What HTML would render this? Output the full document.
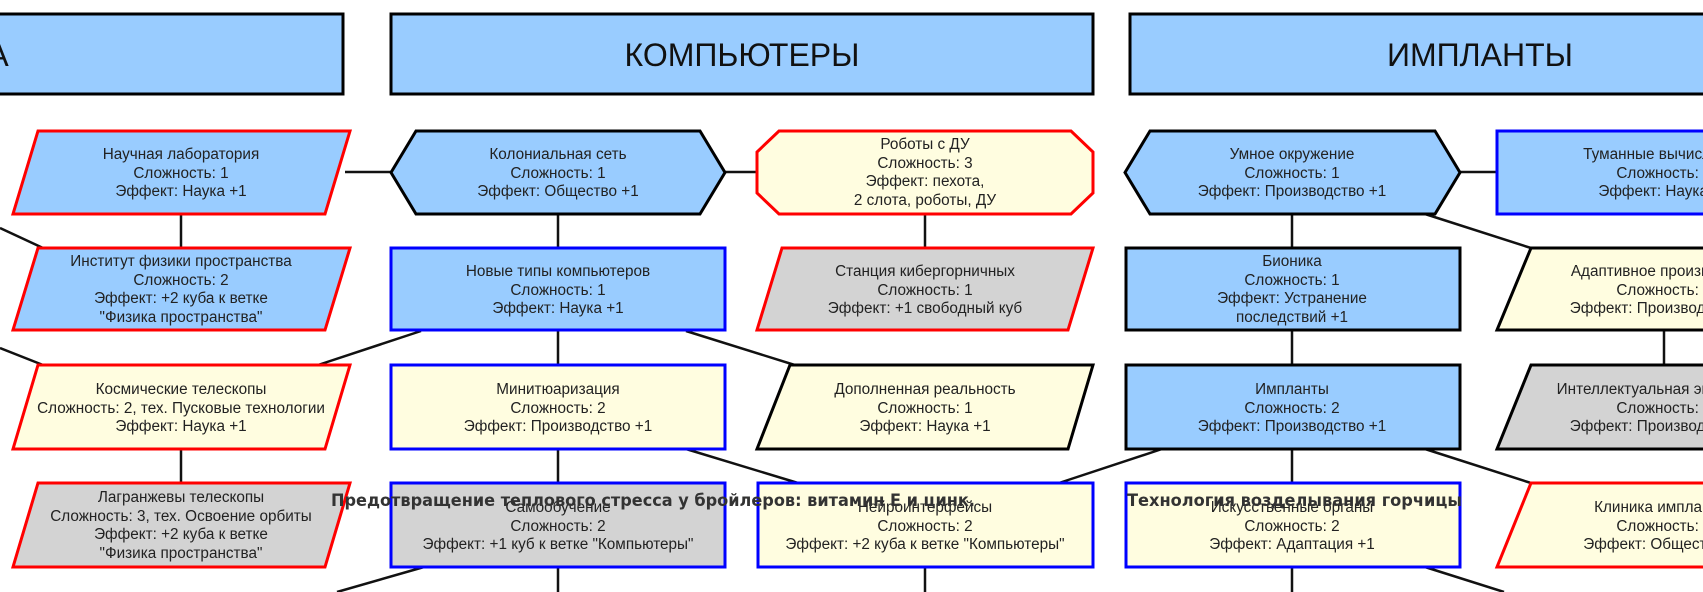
<!DOCTYPE html>
<html><head><meta charset="utf-8"><style>
html,body{margin:0;padding:0;background:#fff;width:1703px;height:592px;overflow:hidden}
svg{display:block}
.t{font-family:"Liberation Sans",Arial,sans-serif;font-size:15.3px;fill:#222;text-anchor:middle}
.h{font-family:"Liberation Sans",Arial,sans-serif;font-size:32px;fill:#111;text-anchor:middle}
.o{font-family:"DejaVu Sans Condensed","DejaVu Sans",sans-serif;font-weight:bold;font-size:16.5px;fill:#333}
</style></head><body>
<svg width="1703" height="592" viewBox="0 0 1703 592" xmlns="http://www.w3.org/2000/svg">
<g stroke="#000" stroke-width="3" fill="#99CCFF">
<rect x="-360" y="14" width="703" height="80"/>
<rect x="391" y="14" width="702" height="80"/>
<rect x="1130" y="14" width="702" height="80"/>
</g>
<text class="h" x="-2" y="66">А</text>
<text class="h" x="742" y="66">КОМПЬЮТЕРЫ</text>
<text class="h" x="1480" y="66">ИМПЛАНТЫ</text>

<g stroke="#111" stroke-width="2.5">
<line x1="345" y1="172" x2="391" y2="172"/>
<line x1="725" y1="172" x2="757" y2="172"/>
<line x1="1460" y1="172" x2="1496" y2="172"/>
<line x1="181" y1="214" x2="181" y2="248"/>
<line x1="181" y1="449" x2="181" y2="483"/>
<line x1="558" y1="214" x2="558" y2="592"/>
<line x1="925" y1="214" x2="925" y2="248"/>
<line x1="925" y1="567" x2="925" y2="592"/>
<line x1="1292" y1="214" x2="1292" y2="592"/>
<line x1="1664" y1="330" x2="1664" y2="365"/>
<line x1="0" y1="228" x2="43" y2="248"/>
<line x1="0" y1="348" x2="43" y2="365"/>
<line x1="421" y1="331" x2="315" y2="366"/>
<line x1="686" y1="331" x2="798" y2="366"/>
<line x1="686" y1="449" x2="798" y2="483"/>
<line x1="424" y1="567" x2="337" y2="592"/>
<line x1="1425" y1="214" x2="1531" y2="248"/>
<line x1="1162" y1="449" x2="1059" y2="483"/>
<line x1="1425" y1="449" x2="1531" y2="483"/>
<line x1="1425" y1="567" x2="1504" y2="592"/>
</g>

<g stroke-width="3">
<polygon points="38,131 350,131 325,214 13,214" fill="#99CCFF" stroke="#f00"/>
<polygon points="391,172.5 416,131 700,131 725,172.5 700,214 416,214" fill="#99CCFF" stroke="#000"/>
<polygon points="779,131 1071,131 1093,152 1093,193 1071,214 779,214 757,193 757,152" fill="#FFFDE0" stroke="#f00"/>
<polygon points="1125,172.5 1150,131 1435,131 1460,172.5 1435,214 1150,214" fill="#99CCFF" stroke="#000"/>
<rect x="1497" y="131" width="334" height="83" fill="#99CCFF" stroke="#00f"/>
<polygon points="38,248 350,248 325,330 13,330" fill="#99CCFF" stroke="#f00"/>
<rect x="391" y="248" width="334" height="82" fill="#99CCFF" stroke="#00f"/>
<polygon points="782,248 1093,248 1068,330 757,330" fill="#D3D3D3" stroke="#f00"/>
<rect x="1126" y="248" width="334" height="82" fill="#99CCFF" stroke="#000"/>
<polygon points="1531,248 1850,248 1825,330 1497,330" fill="#FFFDE0" stroke="#000"/>
<polygon points="38,365 350,365 325,449 13,449" fill="#FFFDE0" stroke="#f00"/>
<rect x="391" y="365" width="334" height="84" fill="#FFFDE0" stroke="#00f"/>
<polygon points="790,365 1093,365 1068,449 757,449" fill="#FFFDE0" stroke="#000"/>
<rect x="1126" y="365" width="334" height="84" fill="#99CCFF" stroke="#000"/>
<polygon points="1531,365 1850,365 1825,449 1497,449" fill="#D3D3D3" stroke="#000"/>
<polygon points="38,483 350,483 325,567 13,567" fill="#D3D3D3" stroke="#f00"/>
<rect x="391" y="483" width="334" height="84" fill="#D3D3D3" stroke="#00f"/>
<rect x="758" y="483" width="335" height="84" fill="#FFFDE0" stroke="#00f"/>
<rect x="1126" y="483" width="334" height="84" fill="#FFFDE0" stroke="#00f"/>
<polygon points="1531,483 1850,483 1825,567 1497,567" fill="#FFFDE0" stroke="#f00"/>
</g>

<text class="t" x="181" y="159">Научная лаборатория</text>
<text class="t" x="181" y="178">Сложность: 1</text>
<text class="t" x="181" y="196">Эффект: Наука +1</text>
<text class="t" x="558" y="159">Колониальная сеть</text>
<text class="t" x="558" y="178">Сложность: 1</text>
<text class="t" x="558" y="196">Эффект: Общество +1</text>
<text class="t" x="925" y="149">Роботы с ДУ</text>
<text class="t" x="925" y="168">Сложность: 3</text>
<text class="t" x="925" y="186">Эффект: пехота,</text>
<text class="t" x="925" y="205">2 слота, роботы, ДУ</text>
<text class="t" x="1292" y="159">Умное окружение</text>
<text class="t" x="1292" y="178">Сложность: 1</text>
<text class="t" x="1292" y="196">Эффект: Производство +1</text>
<text class="t" x="1664" y="159">Туманные вычисления</text>
<text class="t" x="1664" y="178">Сложность: 1</text>
<text class="t" x="1664" y="196">Эффект: Наука +1</text>
<text class="t" x="181" y="266">Институт физики пространства</text>
<text class="t" x="181" y="285">Сложность: 2</text>
<text class="t" x="181" y="303">Эффект: +2 куба к ветке</text>
<text class="t" x="181" y="322">"Физика пространства"</text>
<text class="t" x="558" y="276">Новые типы компьютеров</text>
<text class="t" x="558" y="295">Сложность: 1</text>
<text class="t" x="558" y="313">Эффект: Наука +1</text>
<text class="t" x="925" y="276">Станция кибергорничных</text>
<text class="t" x="925" y="295">Сложность: 1</text>
<text class="t" x="925" y="313">Эффект: +1 свободный куб</text>
<text class="t" x="1292" y="266">Бионика</text>
<text class="t" x="1292" y="285">Сложность: 1</text>
<text class="t" x="1292" y="303">Эффект: Устранение</text>
<text class="t" x="1292" y="322">последствий +1</text>
<text class="t" x="1664" y="276">Адаптивное производство</text>
<text class="t" x="1664" y="295">Сложность: 1</text>
<text class="t" x="1664" y="313">Эффект: Производство +1</text>
<text class="t" x="181" y="394">Космические телескопы</text>
<text class="t" x="181" y="413">Сложность: 2, тех. Пусковые технологии</text>
<text class="t" x="181" y="431">Эффект: Наука +1</text>
<text class="t" x="558" y="394">Минитюаризация</text>
<text class="t" x="558" y="413">Сложность: 2</text>
<text class="t" x="558" y="431">Эффект: Производство +1</text>
<text class="t" x="925" y="394">Дополненная реальность</text>
<text class="t" x="925" y="413">Сложность: 1</text>
<text class="t" x="925" y="431">Эффект: Наука +1</text>
<text class="t" x="1292" y="394">Импланты</text>
<text class="t" x="1292" y="413">Сложность: 2</text>
<text class="t" x="1292" y="431">Эффект: Производство +1</text>
<text class="t" x="1664" y="394">Интеллектуальная энергетика</text>
<text class="t" x="1664" y="413">Сложность: 2</text>
<text class="t" x="1664" y="431">Эффект: Производство +1</text>
<text class="t" x="181" y="502">Лагранжевы телескопы</text>
<text class="t" x="181" y="521">Сложность: 3, тех. Освоение орбиты</text>
<text class="t" x="181" y="539">Эффект: +2 куба к ветке</text>
<text class="t" x="181" y="558">"Физика пространства"</text>
<text class="t" x="558" y="512">Самообучение</text>
<text class="t" x="558" y="531">Сложность: 2</text>
<text class="t" x="558" y="549">Эффект: +1 куб к ветке "Компьютеры"</text>
<text class="t" x="925" y="512">Нейроинтерфейсы</text>
<text class="t" x="925" y="531">Сложность: 2</text>
<text class="t" x="925" y="549">Эффект: +2 куба к ветке "Компьютеры"</text>
<text class="t" x="1292" y="512">Искусственные органы</text>
<text class="t" x="1292" y="531">Сложность: 2</text>
<text class="t" x="1292" y="549">Эффект: Адаптация +1</text>
<text class="t" x="1664" y="512">Клиника имплантов</text>
<text class="t" x="1664" y="531">Сложность: 2</text>
<text class="t" x="1664" y="549">Эффект: Общество +1</text>

<text class="o" x="331" y="506" textLength="644" lengthAdjust="spacingAndGlyphs">Предотвращение теплового стресса у бройлеров: витамин Е и цинк.</text>
<text class="o" x="1127" y="506" textLength="335" lengthAdjust="spacingAndGlyphs">Технология возделывания горчицы</text>
</svg>
</body></html>
